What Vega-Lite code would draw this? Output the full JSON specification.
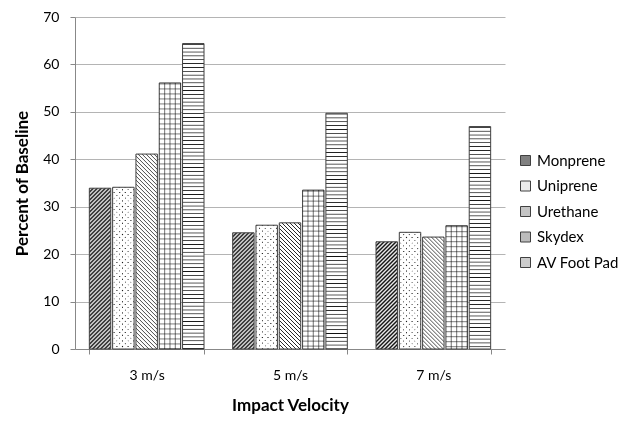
{
  "$schema": "https://vega.github.io/schema/vega-lite/v6.json",
  "autosize": {"type": "none"},
  "width": 430,
  "height": 332,
  "padding": {"left": 75, "top": 17, "right": 123, "bottom": 80},
  "background": "white",
  "params": [
    {"name": "S1", "value": [
      {"offset":0,"color":"#000"},{"offset":0.01,"color":"#fff"},{"offset":0.02,"color":"#000"},{"offset":0.03,"color":"#fff"},{"offset":0.04,"color":"#000"},{"offset":0.05,"color":"#fff"},{"offset":0.06,"color":"#000"},{"offset":0.07,"color":"#fff"},{"offset":0.08,"color":"#000"},{"offset":0.09,"color":"#fff"},
      {"offset":0.1,"color":"#000"},{"offset":0.11,"color":"#fff"},{"offset":0.12,"color":"#000"},{"offset":0.13,"color":"#fff"},{"offset":0.14,"color":"#000"},{"offset":0.15,"color":"#fff"},{"offset":0.16,"color":"#000"},{"offset":0.17,"color":"#fff"},{"offset":0.18,"color":"#000"},{"offset":0.19,"color":"#fff"},
      {"offset":0.2,"color":"#000"},{"offset":0.21,"color":"#fff"},{"offset":0.22,"color":"#000"},{"offset":0.23,"color":"#fff"},{"offset":0.24,"color":"#000"},{"offset":0.25,"color":"#fff"},{"offset":0.26,"color":"#000"},{"offset":0.27,"color":"#fff"},{"offset":0.28,"color":"#000"},{"offset":0.29,"color":"#fff"},
      {"offset":0.3,"color":"#000"},{"offset":0.31,"color":"#fff"},{"offset":0.32,"color":"#000"},{"offset":0.33,"color":"#fff"},{"offset":0.34,"color":"#000"},{"offset":0.35,"color":"#fff"},{"offset":0.36,"color":"#000"},{"offset":0.37,"color":"#fff"},{"offset":0.38,"color":"#000"},{"offset":0.39,"color":"#fff"},
      {"offset":0.4,"color":"#000"},{"offset":0.41,"color":"#fff"},{"offset":0.42,"color":"#000"},{"offset":0.43,"color":"#fff"},{"offset":0.44,"color":"#000"},{"offset":0.45,"color":"#fff"},{"offset":0.46,"color":"#000"},{"offset":0.47,"color":"#fff"},{"offset":0.48,"color":"#000"},{"offset":0.49,"color":"#fff"},
      {"offset":0.5,"color":"#000"},{"offset":0.51,"color":"#fff"},{"offset":0.52,"color":"#000"},{"offset":0.53,"color":"#fff"},{"offset":0.54,"color":"#000"},{"offset":0.55,"color":"#fff"},{"offset":0.56,"color":"#000"},{"offset":0.57,"color":"#fff"},{"offset":0.58,"color":"#000"},{"offset":0.59,"color":"#fff"},
      {"offset":0.6,"color":"#000"},{"offset":0.61,"color":"#fff"},{"offset":0.62,"color":"#000"},{"offset":0.63,"color":"#fff"},{"offset":0.64,"color":"#000"},{"offset":0.65,"color":"#fff"},{"offset":0.66,"color":"#000"},{"offset":0.67,"color":"#fff"},{"offset":0.68,"color":"#000"},{"offset":0.69,"color":"#fff"},
      {"offset":0.7,"color":"#000"},{"offset":0.71,"color":"#fff"},{"offset":0.72,"color":"#000"},{"offset":0.73,"color":"#fff"},{"offset":0.74,"color":"#000"},{"offset":0.75,"color":"#fff"},{"offset":0.76,"color":"#000"},{"offset":0.77,"color":"#fff"},{"offset":0.78,"color":"#000"},{"offset":0.79,"color":"#fff"},
      {"offset":0.8,"color":"#000"},{"offset":0.81,"color":"#fff"},{"offset":0.82,"color":"#000"},{"offset":0.83,"color":"#fff"},{"offset":0.84,"color":"#000"},{"offset":0.85,"color":"#fff"},{"offset":0.86,"color":"#000"},{"offset":0.87,"color":"#fff"},{"offset":0.88,"color":"#000"},{"offset":0.89,"color":"#fff"},
      {"offset":0.9,"color":"#000"},{"offset":0.91,"color":"#fff"},{"offset":0.92,"color":"#000"},{"offset":0.93,"color":"#fff"},{"offset":0.94,"color":"#000"},{"offset":0.95,"color":"#fff"},{"offset":0.96,"color":"#000"},{"offset":0.97,"color":"#fff"},{"offset":0.98,"color":"#000"},{"offset":0.99,"color":"#fff"},
      {"offset":1,"color":"#000"}
    ]},
    {"name": "S2", "value": [
      {"offset":0,"color":"#fff"},{"offset":0.0025,"color":"#111"},{"offset":0.005,"color":"#fff"},{"offset":0.0125,"color":"#fff"},{"offset":0.015,"color":"#111"},{"offset":0.0175,"color":"#fff"},{"offset":0.025,"color":"#fff"},{"offset":0.0275,"color":"#111"},{"offset":0.03,"color":"#fff"},{"offset":0.0375,"color":"#fff"},{"offset":0.04,"color":"#111"},{"offset":0.0425,"color":"#fff"},
      {"offset":0.05,"color":"#fff"},{"offset":0.0525,"color":"#111"},{"offset":0.055,"color":"#fff"},{"offset":0.0625,"color":"#fff"},{"offset":0.065,"color":"#111"},{"offset":0.0675,"color":"#fff"},{"offset":0.075,"color":"#fff"},{"offset":0.0775,"color":"#111"},{"offset":0.08,"color":"#fff"},{"offset":0.0875,"color":"#fff"},{"offset":0.09,"color":"#111"},{"offset":0.0925,"color":"#fff"},
      {"offset":0.1,"color":"#fff"},{"offset":0.1025,"color":"#111"},{"offset":0.105,"color":"#fff"},{"offset":0.1125,"color":"#fff"},{"offset":0.115,"color":"#111"},{"offset":0.1175,"color":"#fff"},{"offset":0.125,"color":"#fff"},{"offset":0.1275,"color":"#111"},{"offset":0.13,"color":"#fff"},{"offset":0.1375,"color":"#fff"},{"offset":0.14,"color":"#111"},{"offset":0.1425,"color":"#fff"},
      {"offset":0.15,"color":"#fff"},{"offset":0.1525,"color":"#111"},{"offset":0.155,"color":"#fff"},{"offset":0.1625,"color":"#fff"},{"offset":0.165,"color":"#111"},{"offset":0.1675,"color":"#fff"},{"offset":0.175,"color":"#fff"},{"offset":0.1775,"color":"#111"},{"offset":0.18,"color":"#fff"},{"offset":0.1875,"color":"#fff"},{"offset":0.19,"color":"#111"},{"offset":0.1925,"color":"#fff"},
      {"offset":0.2,"color":"#fff"},{"offset":0.2025,"color":"#111"},{"offset":0.205,"color":"#fff"},{"offset":0.2125,"color":"#fff"},{"offset":0.215,"color":"#111"},{"offset":0.2175,"color":"#fff"},{"offset":0.225,"color":"#fff"},{"offset":0.2275,"color":"#111"},{"offset":0.23,"color":"#fff"},{"offset":0.2375,"color":"#fff"},{"offset":0.24,"color":"#111"},{"offset":0.2425,"color":"#fff"},
      {"offset":0.25,"color":"#fff"},{"offset":0.2525,"color":"#111"},{"offset":0.255,"color":"#fff"},{"offset":0.2625,"color":"#fff"},{"offset":0.265,"color":"#111"},{"offset":0.2675,"color":"#fff"},{"offset":0.275,"color":"#fff"},{"offset":0.2775,"color":"#111"},{"offset":0.28,"color":"#fff"},{"offset":0.2875,"color":"#fff"},{"offset":0.29,"color":"#111"},{"offset":0.2925,"color":"#fff"},
      {"offset":0.3,"color":"#fff"},{"offset":0.3025,"color":"#111"},{"offset":0.305,"color":"#fff"},{"offset":0.3125,"color":"#fff"},{"offset":0.315,"color":"#111"},{"offset":0.3175,"color":"#fff"},{"offset":0.325,"color":"#fff"},{"offset":0.3275,"color":"#111"},{"offset":0.33,"color":"#fff"},{"offset":0.3375,"color":"#fff"},{"offset":0.34,"color":"#111"},{"offset":0.3425,"color":"#fff"},
      {"offset":0.35,"color":"#fff"},{"offset":0.3525,"color":"#111"},{"offset":0.355,"color":"#fff"},{"offset":0.3625,"color":"#fff"},{"offset":0.365,"color":"#111"},{"offset":0.3675,"color":"#fff"},{"offset":0.375,"color":"#fff"},{"offset":0.3775,"color":"#111"},{"offset":0.38,"color":"#fff"},{"offset":0.3875,"color":"#fff"},{"offset":0.39,"color":"#111"},{"offset":0.3925,"color":"#fff"},
      {"offset":0.4,"color":"#fff"},{"offset":0.4025,"color":"#111"},{"offset":0.405,"color":"#fff"},{"offset":0.4125,"color":"#fff"},{"offset":0.415,"color":"#111"},{"offset":0.4175,"color":"#fff"},{"offset":0.425,"color":"#fff"},{"offset":0.4275,"color":"#111"},{"offset":0.43,"color":"#fff"},{"offset":0.4375,"color":"#fff"},{"offset":0.44,"color":"#111"},{"offset":0.4425,"color":"#fff"},
      {"offset":0.45,"color":"#fff"},{"offset":0.4525,"color":"#111"},{"offset":0.455,"color":"#fff"},{"offset":0.4625,"color":"#fff"},{"offset":0.465,"color":"#111"},{"offset":0.4675,"color":"#fff"},{"offset":0.475,"color":"#fff"},{"offset":0.4775,"color":"#111"},{"offset":0.48,"color":"#fff"},{"offset":0.4875,"color":"#fff"},{"offset":0.49,"color":"#111"},{"offset":0.4925,"color":"#fff"},
      {"offset":0.5,"color":"#fff"},{"offset":0.5025,"color":"#111"},{"offset":0.505,"color":"#fff"},{"offset":0.5125,"color":"#fff"},{"offset":0.515,"color":"#111"},{"offset":0.5175,"color":"#fff"},{"offset":0.525,"color":"#fff"},{"offset":0.5275,"color":"#111"},{"offset":0.53,"color":"#fff"},{"offset":0.5375,"color":"#fff"},{"offset":0.54,"color":"#111"},{"offset":0.5425,"color":"#fff"},
      {"offset":0.55,"color":"#fff"},{"offset":0.5525,"color":"#111"},{"offset":0.555,"color":"#fff"},{"offset":0.5625,"color":"#fff"},{"offset":0.565,"color":"#111"},{"offset":0.5675,"color":"#fff"},{"offset":0.575,"color":"#fff"},{"offset":0.5775,"color":"#111"},{"offset":0.58,"color":"#fff"},{"offset":0.5875,"color":"#fff"},{"offset":0.59,"color":"#111"},{"offset":0.5925,"color":"#fff"},
      {"offset":0.6,"color":"#fff"},{"offset":0.6025,"color":"#111"},{"offset":0.605,"color":"#fff"},{"offset":0.6125,"color":"#fff"},{"offset":0.615,"color":"#111"},{"offset":0.6175,"color":"#fff"},{"offset":0.625,"color":"#fff"},{"offset":0.6275,"color":"#111"},{"offset":0.63,"color":"#fff"},{"offset":0.6375,"color":"#fff"},{"offset":0.64,"color":"#111"},{"offset":0.6425,"color":"#fff"},
      {"offset":0.65,"color":"#fff"},{"offset":0.6525,"color":"#111"},{"offset":0.655,"color":"#fff"},{"offset":0.6625,"color":"#fff"},{"offset":0.665,"color":"#111"},{"offset":0.6675,"color":"#fff"},{"offset":0.675,"color":"#fff"},{"offset":0.6775,"color":"#111"},{"offset":0.68,"color":"#fff"},{"offset":0.6875,"color":"#fff"},{"offset":0.69,"color":"#111"},{"offset":0.6925,"color":"#fff"},
      {"offset":0.7,"color":"#fff"},{"offset":0.7025,"color":"#111"},{"offset":0.705,"color":"#fff"},{"offset":0.7125,"color":"#fff"},{"offset":0.715,"color":"#111"},{"offset":0.7175,"color":"#fff"},{"offset":0.725,"color":"#fff"},{"offset":0.7275,"color":"#111"},{"offset":0.73,"color":"#fff"},{"offset":0.7375,"color":"#fff"},{"offset":0.74,"color":"#111"},{"offset":0.7425,"color":"#fff"},
      {"offset":0.75,"color":"#fff"},{"offset":0.7525,"color":"#111"},{"offset":0.755,"color":"#fff"},{"offset":0.7625,"color":"#fff"},{"offset":0.765,"color":"#111"},{"offset":0.7675,"color":"#fff"},{"offset":0.775,"color":"#fff"},{"offset":0.7775,"color":"#111"},{"offset":0.78,"color":"#fff"},{"offset":0.7875,"color":"#fff"},{"offset":0.79,"color":"#111"},{"offset":0.7925,"color":"#fff"},
      {"offset":0.8,"color":"#fff"},{"offset":0.8025,"color":"#111"},{"offset":0.805,"color":"#fff"},{"offset":0.8125,"color":"#fff"},{"offset":0.815,"color":"#111"},{"offset":0.8175,"color":"#fff"},{"offset":0.825,"color":"#fff"},{"offset":0.8275,"color":"#111"},{"offset":0.83,"color":"#fff"},{"offset":0.8375,"color":"#fff"},{"offset":0.84,"color":"#111"},{"offset":0.8425,"color":"#fff"},
      {"offset":0.85,"color":"#fff"},{"offset":0.8525,"color":"#111"},{"offset":0.855,"color":"#fff"},{"offset":0.8625,"color":"#fff"},{"offset":0.865,"color":"#111"},{"offset":0.8675,"color":"#fff"},{"offset":0.875,"color":"#fff"},{"offset":0.8775,"color":"#111"},{"offset":0.88,"color":"#fff"},{"offset":0.8875,"color":"#fff"},{"offset":0.89,"color":"#111"},{"offset":0.8925,"color":"#fff"},
      {"offset":0.9,"color":"#fff"},{"offset":0.9025,"color":"#111"},{"offset":0.905,"color":"#fff"},{"offset":0.9125,"color":"#fff"},{"offset":0.915,"color":"#111"},{"offset":0.9175,"color":"#fff"},{"offset":0.925,"color":"#fff"},{"offset":0.9275,"color":"#111"},{"offset":0.93,"color":"#fff"},{"offset":0.9375,"color":"#fff"},{"offset":0.94,"color":"#111"},{"offset":0.9425,"color":"#fff"},
      {"offset":0.95,"color":"#fff"},{"offset":0.9525,"color":"#111"},{"offset":0.955,"color":"#fff"},{"offset":0.9625,"color":"#fff"},{"offset":0.965,"color":"#111"},{"offset":0.9675,"color":"#fff"},{"offset":0.975,"color":"#fff"},{"offset":0.9775,"color":"#111"},{"offset":0.98,"color":"#fff"},{"offset":0.9875,"color":"#fff"},{"offset":0.99,"color":"#111"},{"offset":0.9925,"color":"#fff"},
      {"offset":1,"color":"#fff"}
    ]}
  ],
  "data": {
    "values": [
      {"velocity": "3 m/s", "material": "Monprene", "value": 33.9},
      {"velocity": "3 m/s", "material": "Uniprene", "value": 34.1},
      {"velocity": "3 m/s", "material": "Urethane", "value": 41.1},
      {"velocity": "3 m/s", "material": "Skydex", "value": 56.1},
      {"velocity": "3 m/s", "material": "AV Foot Pad", "value": 64.4},
      {"velocity": "5 m/s", "material": "Monprene", "value": 24.5},
      {"velocity": "5 m/s", "material": "Uniprene", "value": 26.1},
      {"velocity": "5 m/s", "material": "Urethane", "value": 26.6},
      {"velocity": "5 m/s", "material": "Skydex", "value": 33.5},
      {"velocity": "5 m/s", "material": "AV Foot Pad", "value": 49.7},
      {"velocity": "7 m/s", "material": "Monprene", "value": 22.6},
      {"velocity": "7 m/s", "material": "Uniprene", "value": 24.6},
      {"velocity": "7 m/s", "material": "Urethane", "value": 23.6},
      {"velocity": "7 m/s", "material": "Skydex", "value": 26.0},
      {"velocity": "7 m/s", "material": "AV Foot Pad", "value": 46.9}
    ]
  },
  "encoding": {
    "x": {
      "field": "velocity", "type": "nominal",
      "scale": {"paddingInner": 0.2, "paddingOuter": 0.1},
      "axis": {
        "title": "Impact Velocity", "labelAngle": 0,
        "labelFont": "Lato", "labelFontSize": 14, "labelColor": "#000",
        "titleFont": "Lato", "titleFontSize": 17, "titleFontWeight": "bold", "titleColor": "#000",
        "domainColor": "#888", "tickColor": "#888", "tickBand": "extent", "tickSize": 5,
        "labelPadding": 14, "titlePadding": 15
      }
    },
    "xOffset": {
      "field": "material", "type": "nominal",
      "scale": {"domain": ["Monprene", "Uniprene", "Urethane", "Skydex", "AV Foot Pad"], "paddingInner": 0.08, "paddingOuter": 0}
    },
    "y": {
      "field": "value", "type": "quantitative",
      "scale": {"domain": [0, 70]},
      "axis": {
        "title": "Percent of Baseline", "values": [0, 10, 20, 30, 40, 50, 60, 70],
        "labelFont": "Lato", "labelFontSize": 14, "labelColor": "#000",
        "titleFont": "Lato", "titleFontSize": 17, "titleFontWeight": "bold", "titleColor": "#000",
        "domainColor": "#888", "tickColor": "#888", "tickSize": 5,
        "gridColor": "#b4b4b4", "labelPadding": 11, "titlePadding": 11
      }
    }
  },
  "layer": [
    {
      "mark": {"type": "bar", "stroke": "#404040", "strokeWidth": 1},
      "encoding": {
        "fill": {
          "field": "material", "type": "nominal",
          "scale": {"domain": ["Monprene", "Uniprene", "Urethane", "Skydex", "AV Foot Pad"], "range": ["#808080", "#ececec", "#c4c4c4", "#bcbcbc", "#cccccc"]},
          "legend": {
            "title": null, "orient": "none", "legendX": 443, "legendY": 136,
            "labelFont": "Lato", "labelFontSize": 15, "labelColor": "#000",
            "symbolType": "square", "symbolSize": 100, "symbolStrokeColor": "#404040", "symbolStrokeWidth": 1,
            "rowPadding": 9.5, "labelOffset": 4
          },
          "condition": [
            {"test": "datum.material === 'Monprene'", "value": {"expr": "{gradient:'linear',x1:0,y1:0,x2:0.1072/(0.011492+pow(datum.value*0.0237143,2)),y2:datum.value*0.0237143/(0.011492+pow(datum.value*0.0237143,2)),stops:S1}"}},
            {"test": "datum.material === 'Uniprene'", "value": {"expr": "{gradient:'linear',x1:0,y1:0,x2:0.047857/(0.0022903+pow(datum.value*0.0105867,2)),y2:datum.value*0.0105867/(0.0022903+pow(datum.value*0.0105867,2)),stops:S2}"}},
            {"test": "datum.material === 'Urethane'", "value": {"expr": "{gradient:'linear',x1:0,y1:1,x2:0.067/(0.004489+pow(datum.value*0.0148214,2)),y2:1-datum.value*0.0148214/(0.004489+pow(datum.value*0.0148214,2)),stops:S2}"}},
            {"test": "datum.material === 'Skydex'", "value": "#ffffff"},
            {"test": "datum.material === 'AV Foot Pad'", "value": {"expr": "{gradient:'linear',x1:0,y1:0,x2:0,y2:64.94/datum.value,stops:S2}"}}
          ]
        }
      }
    },
    {
      "transform": [{"filter": "datum.material === 'Uniprene'"}],
      "mark": {"type": "bar", "blend": "lighten", "stroke": "#404040", "strokeWidth": 1},
      "encoding": {
        "fill": {"value": {"expr": "{gradient:'linear',x1:0,y1:1,x2:0.047857/(0.0022903+pow(datum.value*0.0105867,2)),y2:1-datum.value*0.0105867/(0.0022903+pow(datum.value*0.0105867,2)),stops:S2}"}}
      }
    },
    {
      "transform": [{"filter": "datum.material === 'Skydex'"}],
      "mark": {"type": "bar", "blend": "multiply", "fillOpacity": 0.55},
      "encoding": {
        "fill": {"value": {"expr": "{gradient:'linear',x1:0,y1:0,x2:0,y2:84.34/datum.value,stops:S2}"}}
      }
    },
    {
      "transform": [{"filter": "datum.material === 'Skydex'"}],
      "mark": {"type": "bar", "blend": "multiply", "fillOpacity": 0.55},
      "encoding": {
        "fill": {"value": {"expr": "{gradient:'linear',x1:0.2,y1:0,x2:20.2,y2:0,stops:S2}"}}
      }
    }
  ],
  "config": {"view": {"stroke": null}}
}
